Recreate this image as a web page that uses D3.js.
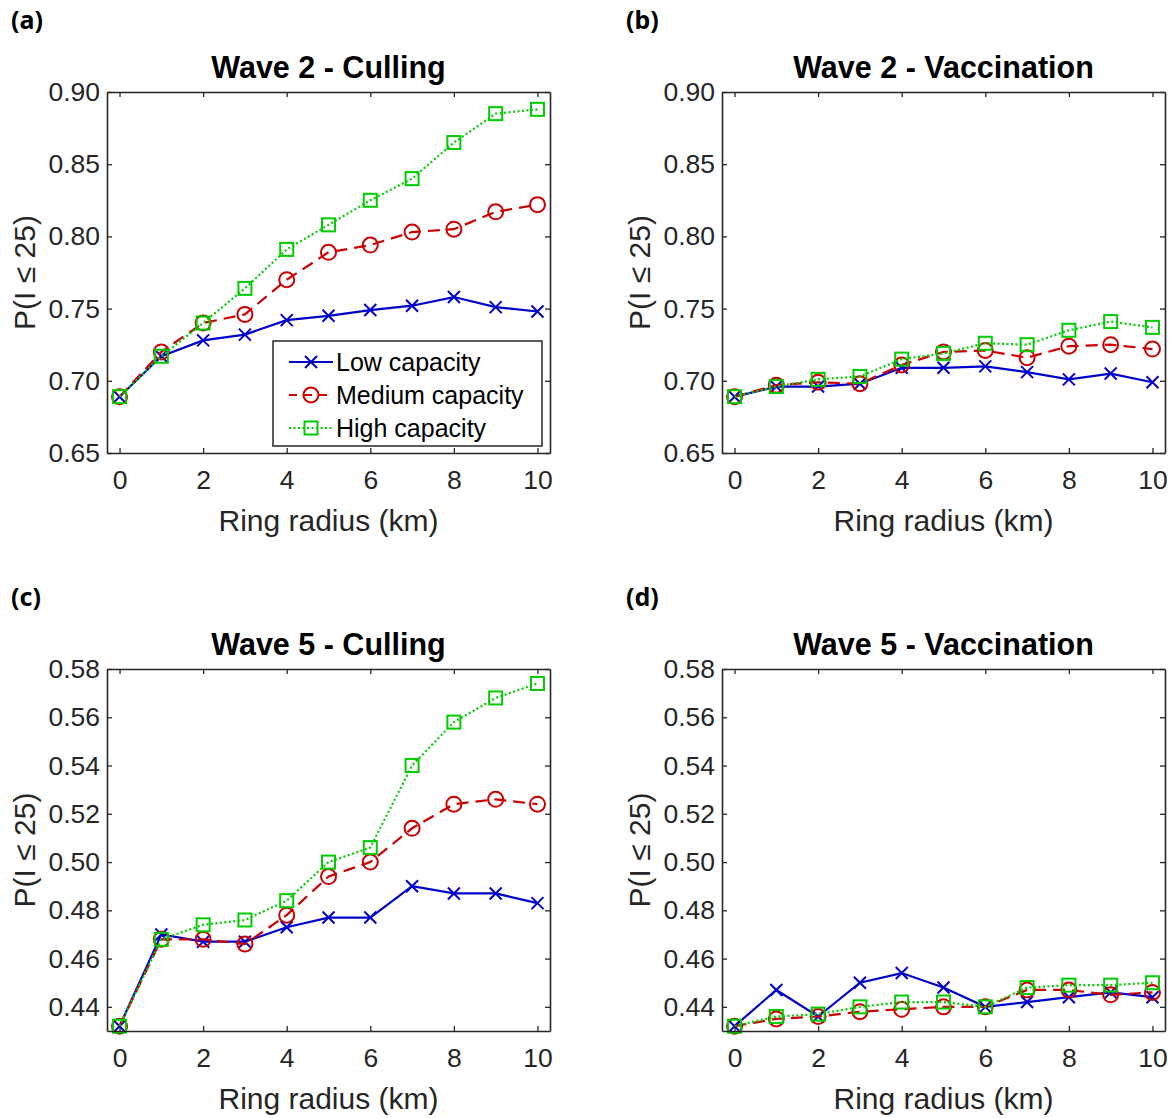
<!DOCTYPE html>
<html>
<head>
<meta charset="utf-8">
<script src="https://cdn.jsdelivr.net/npm/d3@7"></script>
<style>
  body { margin: 0; background: #fff; }
  svg { display: block; font-family: "Liberation Sans", Arial, Helvetica, sans-serif; }
  .tick text { fill: #262626; }
</style>
</head>
<body>
<svg id="chart" width="1172" height="1118"></svg>
<script>
// ring radius (km)
const radius = [0, 1, 2, 3, 4, 5, 6, 7, 8, 9, 10];
const xTicks = [0, 2, 4, 6, 8, 10];

// wave 2
const w2CullLow  = [0.689, 0.717, 0.728, 0.732, 0.742, 0.745, 0.749, 0.752, 0.758, 0.751, 0.748];
const w2CullMed  = [0.689, 0.720, 0.740, 0.746, 0.770, 0.789, 0.794, 0.803, 0.805, 0.817, 0.822];
const w2CullHigh = [0.689, 0.717, 0.740, 0.764, 0.791, 0.808, 0.825, 0.840, 0.865, 0.885, 0.888];
const w2VaccLow  = [0.689, 0.696, 0.696, 0.698, 0.709, 0.709, 0.710, 0.706, 0.701, 0.705, 0.699];
const w2VaccMed  = [0.689, 0.697, 0.699, 0.698, 0.711, 0.720, 0.721, 0.716, 0.724, 0.725, 0.722];
const w2VaccHigh = [0.689, 0.696, 0.701, 0.703, 0.715, 0.719, 0.726, 0.725, 0.735, 0.741, 0.737];
const w2Ticks = [0.65, 0.70, 0.75, 0.80, 0.85, 0.90];

// wave 5
const w5CullLow  = [0.432, 0.470, 0.467, 0.467, 0.473, 0.477, 0.477, 0.490, 0.487, 0.487, 0.483];
const w5CullMed  = [0.432, 0.468, 0.468, 0.466, 0.478, 0.494, 0.500, 0.514, 0.524, 0.526, 0.524];
const w5CullHigh = [0.432, 0.468, 0.474, 0.476, 0.484, 0.500, 0.506, 0.540, 0.558, 0.568, 0.574];
const w5VaccLow  = [0.432, 0.447, 0.436, 0.450, 0.454, 0.448, 0.440, 0.442, 0.444, 0.446, 0.444];
const w5VaccMed  = [0.432, 0.435, 0.436, 0.438, 0.439, 0.440, 0.440, 0.447, 0.447, 0.445, 0.446];
const w5VaccHigh = [0.432, 0.436, 0.437, 0.440, 0.442, 0.442, 0.440, 0.448, 0.449, 0.449, 0.450];
const w5Ticks = [0.44, 0.46, 0.48, 0.50, 0.52, 0.54, 0.56, 0.58];

const seriesNames = ['Low capacity', 'Medium capacity', 'High capacity'];
const seriesColors = ['#0000cc', '#cc0000', '#00cc00'];
const seriesDash = [null, '12,7', '2,2.5'];
const seriesMarker = ['x', 'o', 's'];

const panels = [
    { tag: '(a)', title: 'Wave 2 - Culling', left: 107, top: 92, bottom: 453, yDom: [0.65, 0.90], yTicks: w2Ticks, data: [w2CullLow, w2CullMed, w2CullHigh], legend: true },
    { tag: '(b)', title: 'Wave 2 - Vaccination', left: 722, top: 92, bottom: 453, yDom: [0.65, 0.90], yTicks: w2Ticks, data: [w2VaccLow, w2VaccMed, w2VaccHigh] },
    { tag: '(c)', title: 'Wave 5 - Culling', left: 107, top: 669, bottom: 1031, yDom: [0.43, 0.58], yTicks: w5Ticks, data: [w5CullLow, w5CullMed, w5CullHigh] },
    { tag: '(d)', title: 'Wave 5 - Vaccination', left: 722, top: 669, bottom: 1031, yDom: [0.43, 0.58], yTicks: w5Ticks, data: [w5VaccLow, w5VaccMed, w5VaccHigh] }
];

const svg = d3.select('#chart');
const plotW = 443;
const axisColor = '#262626';

function drawMarker(g, type, cx, cy, color) {
    if (type === 'x') {
        var s = 6;
        g.append('path')
            .attr('d', 'M' + (cx - s) + ',' + (cy - s) + 'L' + (cx + s) + ',' + (cy + s) +
                       'M' + (cx - s) + ',' + (cy + s) + 'L' + (cx + s) + ',' + (cy - s))
            .attr('stroke', color).attr('stroke-width', 2).attr('fill', 'none');
    } else if (type === 'o') {
        g.append('circle').attr('cx', cx).attr('cy', cy).attr('r', 7.5)
            .attr('stroke', color).attr('stroke-width', 2).attr('fill', 'none');
    } else {
        g.append('rect').attr('x', cx - 6.5).attr('y', cy - 6.5).attr('width', 13).attr('height', 13)
            .attr('stroke', color).attr('stroke-width', 2).attr('fill', 'none');
    }
}

panels.forEach(p => {
    var right = p.left + plotW;
    var x = d3.scaleLinear().domain([-0.3, 10.3]).range([p.left, right]);
    var y = d3.scaleLinear().domain(p.yDom).range([p.bottom, p.top]);
    var g = svg.append('g');

    // panel tag and title
    g.append('text').text(p.tag)
        .attr('x', p.left - 96).attr('y', p.top - 63)
        .style('font-family', '"Noto Sans", "Open Sans", sans-serif').style('font-weight', 'bold').style('font-size', '25px')
        .attr('fill', '#000');
    g.append('text').text(p.title)
        .attr('x', (p.left + right) / 2).attr('y', p.top - 14)
        .attr('text-anchor', 'middle')
        .style('font-weight', 'bold').style('font-size', '30.5px').attr('fill', '#000');

    // white plot bg
    g.append('rect').attr('x', p.left).attr('y', p.top).attr('width', plotW).attr('height', p.bottom - p.top).attr('fill', '#fff');

    // series
    p.data.forEach((vals, i) => {
        var line = d3.line().x((d, j) => x(radius[j])).y(d => y(d));
        var path = g.append('path').datum(vals)
            .attr('d', line).attr('fill', 'none')
            .attr('stroke', seriesColors[i]).attr('stroke-width', 2.2);
        if (seriesDash[i]) path.attr('stroke-dasharray', seriesDash[i]);
        var mg = g.append('g');
        vals.forEach((v, j) => drawMarker(mg, seriesMarker[i], x(radius[j]), y(v), seriesColors[i]));
    });

    // axes (inward ticks, box)
    var fmtY = d3.format('.2f');
    var ax = [
        g.append('g').attr('transform', 'translate(0,' + p.bottom + ')')
            .call(d3.axisBottom(x).tickValues(xTicks).tickSizeInner(-5).tickSizeOuter(0).tickPadding(17).tickFormat(d3.format('d'))),
        g.append('g').attr('transform', 'translate(0,' + p.top + ')')
            .call(d3.axisTop(x).tickValues(xTicks).tickSizeInner(-5).tickSizeOuter(0).tickFormat('')),
        g.append('g').attr('transform', 'translate(' + p.left + ',0)')
            .call(d3.axisLeft(y).tickValues(p.yTicks).tickSizeInner(-5).tickSizeOuter(0).tickPadding(7).tickFormat(fmtY)),
        g.append('g').attr('transform', 'translate(' + right + ',0)')
            .call(d3.axisRight(y).tickValues(p.yTicks).tickSizeInner(-5).tickSizeOuter(0).tickFormat(''))
    ];
    ax.forEach(a => {
        a.select('.domain').attr('stroke', axisColor).attr('stroke-width', 1.6);
        a.selectAll('.tick line').attr('stroke', axisColor).attr('stroke-width', 1.3);
        a.selectAll('.tick text').style('font-size', '26.5px').style('font-family', '"Liberation Sans", Arial, sans-serif');
    });

    // axis labels
    g.append('text').text('Ring radius (km)')
        .attr('x', (p.left + right) / 2).attr('y', p.bottom + 78)
        .attr('text-anchor', 'middle').style('font-size', '30px').attr('fill', axisColor);
    g.append('text').text('P(I \u2264 25)')
        .attr('transform', 'translate(' + (p.left - 72) + ',' + ((p.top + p.bottom) / 2) + ') rotate(-90)')
        .attr('text-anchor', 'middle').style('font-size', '30px').attr('fill', axisColor);

    // legend
    if (p.legend) {
        var lg = g.append('g');
        var lx = 273, ly = 341;
        lg.append('rect').attr('x', lx).attr('y', ly).attr('width', 269).attr('height', 105)
            .attr('fill', '#fff').attr('stroke', axisColor).attr('stroke-width', 1.5);
        seriesNames.forEach((name, i) => {
            var cy = ly + 21 + i * 33;
            var ln = lg.append('line').attr('x1', lx + 16).attr('x2', lx + 60).attr('y1', cy).attr('y2', cy)
                .attr('stroke', seriesColors[i]).attr('stroke-width', 2.2);
            if (seriesDash[i]) ln.attr('stroke-dasharray', seriesDash[i] === '12,7' ? '8,7' : seriesDash[i]);
            drawMarker(lg, seriesMarker[i], lx + 38, cy, seriesColors[i]);
            lg.append('text').text(name).attr('x', lx + 63).attr('y', cy + 8.5)
                .style('font-size', '25px').attr('fill', '#000');
        });
    }
});
</script>
</body>
</html>
